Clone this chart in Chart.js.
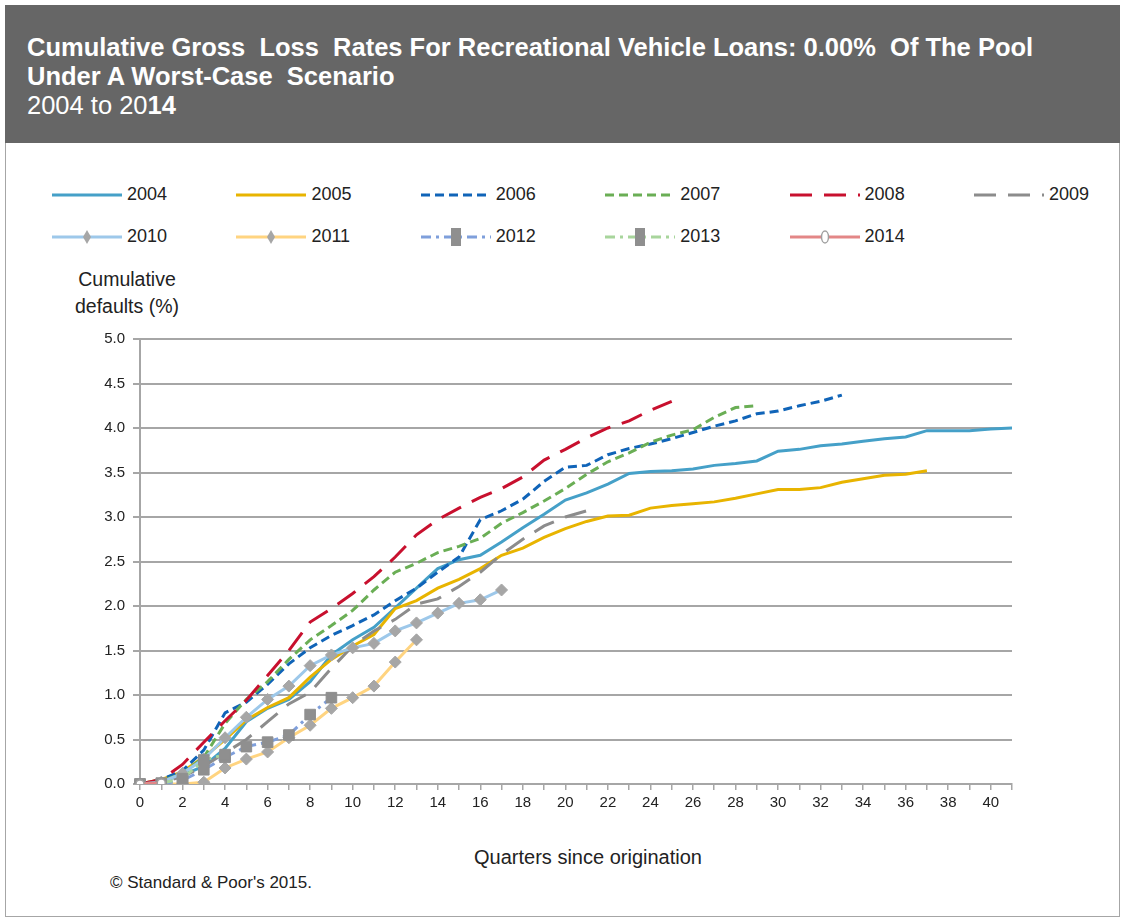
<!DOCTYPE html>
<html><head><meta charset="utf-8">
<script src="https://cdn.jsdelivr.net/npm/chart.js@4.4.0/dist/chart.umd.min.js"></script>
<style>
body{margin:0;background:#fff;font-family:"Liberation Sans",Arial,sans-serif;width:1126px;height:920px;overflow:hidden;position:relative;}
#frame{position:absolute;left:5px;top:5px;width:1113px;height:910px;border:1px solid #a6a6a6;}
#titlebar{position:absolute;left:5px;top:5px;width:1115px;height:138px;background:#666666;}
.t{position:absolute;left:22px;color:#fff;font-size:25.5px;white-space:pre;line-height:28px;}
.b{font-weight:bold;}
#c{position:absolute;left:0;top:0;}
.lg{position:absolute;height:24px;font-size:18px;color:#222;white-space:nowrap;}
.lg canvas{position:absolute;left:0;top:0;}
.lg span{position:absolute;left:75px;top:1px;}
.txt{position:absolute;color:#222;white-space:pre;}
</style></head>
<body>
<div id="frame"></div>
<div id="titlebar">
 <div class="t b" style="top:28px;">Cumulative Gross  Loss  Rates For Recreational Vehicle Loans: 0.00%  Of The Pool</div>
 <div class="t b" style="top:57px;">Under A Worst-Case  Scenario</div>
 <div class="t" style="top:86px;">2004 to 20<span class="b">14</span></div>
</div>
<div id="legend"></div>
<div class="txt" style="left:57px;top:266px;font-size:19.5px;text-align:center;width:140px;line-height:27px;">Cumulative
defaults (%)</div>
<div class="txt" style="left:388px;top:846px;font-size:20px;width:400px;text-align:center;">Quarters since origination</div>
<div class="txt" style="left:110px;top:873px;font-size:17px;">© Standard &amp; Poor's 2015.</div>
<canvas id="c" width="1126" height="920"></canvas>
<script>
// ---- data ----
const quarters = ['0','1','2','3','4','5','6','7','8','9','10','11','12','13','14','15','16','17','18','19','20','21','22','23','24','25','26','27','28','29','30','31','32','33','34','35','36','37','38','39','40','41'];
const yTickLabels = ['0.0','0.5','1.0','1.5','2.0','2.5','3.0','3.5','4.0','4.5','5.0'];
const seriesNames = ['2004','2005','2006','2007','2008','2009','2010','2011','2012','2013','2014'];

const v2004 = [0, 0.03, 0.1, 0.2, 0.4, 0.7, 0.85, 0.95, 1.15, 1.45, 1.62, 1.76, 1.98, 2.2, 2.42, 2.52, 2.57, 2.72, 2.88, 3.03, 3.19, 3.27, 3.37, 3.49, 3.51, 3.52, 3.54, 3.58, 3.6, 3.63, 3.74, 3.76, 3.8, 3.82, 3.85, 3.88, 3.9, 3.97, 3.97, 3.97, 3.99, 4.0];
const v2005 = [0, 0.05, 0.14, 0.3, 0.5, 0.72, 0.86, 0.97, 1.2, 1.4, 1.55, 1.68, 1.97, 2.06, 2.2, 2.3, 2.42, 2.57, 2.65, 2.77, 2.87, 2.95, 3.01, 3.02, 3.1, 3.13, 3.15, 3.17, 3.21, 3.26, 3.31, 3.31, 3.33, 3.39, 3.43, 3.47, 3.48, 3.52];
const v2006 = [0, 0.05, 0.15, 0.38, 0.8, 0.92, 1.12, 1.35, 1.53, 1.67, 1.78, 1.9, 2.06, 2.2, 2.38, 2.55, 2.97, 3.07, 3.2, 3.4, 3.56, 3.58, 3.7, 3.77, 3.82, 3.88, 3.95, 4.02, 4.08, 4.16, 4.19, 4.25, 4.3, 4.37];
const v2007 = [0, 0.03, 0.12, 0.3, 0.68, 0.95, 1.15, 1.4, 1.62, 1.78, 1.95, 2.18, 2.38, 2.48, 2.6, 2.67, 2.76, 2.93, 3.05, 3.18, 3.32, 3.48, 3.62, 3.72, 3.84, 3.92, 3.98, 4.12, 4.23, 4.25];
const v2008 = [0, 0.05, 0.22, 0.47, 0.71, 0.94, 1.22, 1.5, 1.82, 1.97, 2.14, 2.33, 2.55, 2.8, 2.97, 3.1, 3.22, 3.32, 3.45, 3.64, 3.76, 3.89, 4.0, 4.08, 4.2, 4.3];
const v2009 = [0, 0.02, 0.08, 0.2, 0.35, 0.5, 0.7, 0.9, 1.03, 1.3, 1.55, 1.72, 1.85, 2.02, 2.08, 2.22, 2.38, 2.58, 2.75, 2.9, 3.0, 3.07];
const v2010 = [0, 0.02, 0.12, 0.28, 0.52, 0.75, 0.95, 1.1, 1.33, 1.45, 1.53, 1.58, 1.72, 1.81, 1.92, 2.03, 2.07, 2.18];
const v2011 = [0, 0, 0, 0.02, 0.18, 0.28, 0.36, 0.52, 0.66, 0.85, 0.97, 1.1, 1.37, 1.62];
const v2012 = [0, 0, 0.04, 0.16, 0.3, 0.42, 0.47, 0.55, 0.78, 0.97];
const v2013 = [0, 0.01, 0.06, 0.27, 0.33];
const v2014 = [0, 0.01];
const seriesValues = [v2004, v2005, v2006, v2007, v2008, v2009, v2010, v2011, v2012, v2013, v2014];

// ---- styles ----
const styles = [
  {color:'#45A0C8', dash:[], marker:null},
  {color:'#E8B400', dash:[], marker:null},
  {color:'#1064B8', dash:[9,5], marker:null},
  {color:'#6AAE55', dash:[9,5], marker:null},
  {color:'#C8102E', dash:[22,12], marker:null},
  {color:'#8C8C8C', dash:[22,12], marker:null},
  {color:'#9DC8EA', dash:[], marker:{style:'rectRot', r:6, fill:'#A6A6A6', stroke:'#A6A6A6'}},
  {color:'#FFD480', dash:[], marker:{style:'rectRot', r:6, fill:'#A6A6A6', stroke:'#A6A6A6'}},
  {color:'#7F9FDB', dash:[10,5,3,5], marker:{style:'rect', r:7.5, fill:'#8F8F8F', stroke:'#8F8F8F'}},
  {color:'#A8D59C', dash:[10,5,3,5], marker:{style:'rect', r:7.5, fill:'#8F8F8F', stroke:'#8F8F8F'}},
  {color:'#E38787', dash:[], marker:{style:'circle', r:4, fill:'#FFFFFF', stroke:'#A0A0A0'}}
];

const datasets = seriesNames.map((name, i) => {
  const s = styles[i];
  return {
    label: name,
    data: seriesValues[i],
    borderColor: s.color,
    backgroundColor: s.color,
    borderWidth: 3,
    borderDash: s.dash,
    tension: 0,
    fill: false,
    order: seriesNames.length - i,
    pointStyle: s.marker ? s.marker.style : false,
    pointRadius: s.marker ? s.marker.r : 0,
    pointHoverRadius: s.marker ? s.marker.r : 0,
    pointBackgroundColor: s.marker ? s.marker.fill : s.color,
    pointBorderColor: s.marker ? s.marker.stroke : s.color,
    pointBorderWidth: s.marker && s.marker.style === 'circle' ? 1.5 : 1
  };
});

Chart.defaults.font.family = '"Liberation Sans", Arial, sans-serif';
Chart.defaults.color = '#222';

new Chart(document.getElementById('c'), {
  type: 'line',
  data: { labels: quarters, datasets },
  options: {
    responsive: false,
    animation: false,
    events: [],
    layout: { padding: { left: 80, top: 339, right: 114, bottom: 96 } },
    plugins: { legend: { display: false }, tooltip: { enabled: false } },
    scales: {
      x: {
        type: 'category',
        offset: false,
        grid: { display: true, drawOnChartArea: false, drawTicks: true, tickLength: 6, color: '#A6A6A6', lineWidth: 1.5 },
        border: { display: true, color: '#A6A6A6', width: 2 },
        ticks: {
          autoSkip: false, maxRotation: 0, minRotation: 0, padding: 4,
          font: { size: 15 }, color: '#222',
          callback: function(val, idx) { const l = quarters[idx]; return (Number(l) % 2 === 0) ? l : ''; }
        },
        afterFit: (s) => { s.height = 40; }
      },
      y: {
        min: 0, max: 5,
        grid: { color: '#A6A6A6', lineWidth: 2, tickLength: 7, drawTicks: true },
        border: { display: true, color: '#A6A6A6', width: 2 },
        ticks: {
          stepSize: 0.5, padding: 8, font: { size: 15 }, color: '#222',
          callback: function(val) { const i = Math.round(val * 2); return yTickLabels[i]; }
        },
        afterFit: (s) => { s.width = 60; }
      }
    }
  }
});

// ---- HTML legend ----
const lg = document.getElementById('legend');
seriesNames.forEach((name, i) => {
  const s = styles[i];
  const row = Math.floor(i / 6), col = i % 6;
  const d = document.createElement('div');
  d.className = 'lg';
  d.style.left = (52 + col * 184.4) + 'px';
  d.style.top = (183 + row * 42) + 'px';
  const cv = document.createElement('canvas');
  cv.width = 72; cv.height = 24;
  const ctx = cv.getContext('2d');
  ctx.strokeStyle = s.color; ctx.lineWidth = 3;
  ctx.setLineDash(s.dash);
  ctx.beginPath(); ctx.moveTo(0, 12); ctx.lineTo(70, 12); ctx.stroke();
  ctx.setLineDash([]);
  if (s.marker) {
    ctx.fillStyle = s.marker.fill; ctx.strokeStyle = s.marker.stroke; ctx.lineWidth = 1.5;
    const cx = 35, cy = 12;
    if (s.marker.style === 'rectRot') {
      ctx.beginPath(); ctx.moveTo(cx, cy - 7); ctx.lineTo(cx + 4, cy); ctx.lineTo(cx, cy + 7); ctx.lineTo(cx - 4, cy); ctx.closePath(); ctx.fill();
    } else if (s.marker.style === 'rect') {
      ctx.fillRect(cx - 5, cy - 9, 10, 18);
    } else {
      ctx.beginPath(); ctx.ellipse(cx, cy, 3.5, 6, 0, 0, Math.PI * 2); ctx.fill(); ctx.stroke();
    }
  }
  d.appendChild(cv);
  const sp = document.createElement('span');
  sp.textContent = name;
  d.appendChild(sp);
  lg.appendChild(d);
});
</script>
</body></html>
